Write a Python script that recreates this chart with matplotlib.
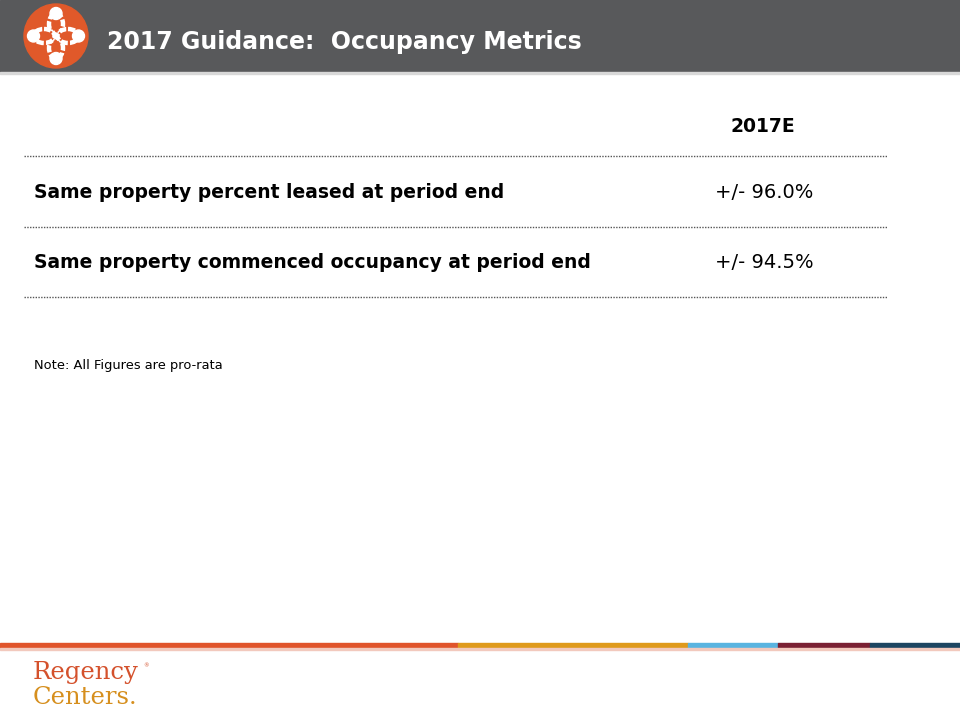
import matplotlib.pyplot as plt
from matplotlib.patches import Rectangle, Circle, Ellipse

title = "2017 Guidance:  Occupancy Metrics"
column = "2017E"
row_labels = ["Same property percent leased at period end",
              "Same property commenced occupancy at period end"]
row_values = ["+/- 96.0%", "+/- 94.5%"]
note = "Note: All Figures are pro-rata"
stripe_colors = ["#e0542b", "#df9a1c", "#5ab4e0", "#7a2033", "#1c4561"]
stripe_edges = [0, 458, 688, 778, 870, 960]

plt.rcParams['font.family'] = ['DejaVu Sans']

fig = plt.figure(figsize=(9.6, 7.2), dpi=100)
ax = fig.add_axes([0, 0, 1, 1])
ax.set_xlim(0, 960)
ax.set_ylim(720, 0)
ax.axis('off')

# header bar
ax.add_patch(Rectangle((0, 0), 960, 72, color='#58595b', zorder=1))
ax.add_patch(Rectangle((0, 72), 960, 2, color='#d8d8d8', zorder=1))
cx, cy = 56, 36
orange = '#e0592a'
ax.add_patch(Circle((cx, cy), 32, color=orange, zorder=2))
# logo: four looped petals (white outline) with a dot at each tip
for dx, dy in [(0, -1), (0, 1), (-1, 0), (1, 0)]:
    vert = dx == 0
    ax.add_patch(Ellipse((cx + dx * 12, cy + dy * 12), 14 if vert else 21,
                         21 if vert else 14, facecolor=orange, edgecolor='white',
                         lw=3.2, ls=(0, (1.6, 0.5)), zorder=3))
    ax.add_patch(Circle((cx + dx * 22.5, cy + dy * 22.5), 6, color='white', zorder=5))
ax.text(107, 42, title, color='white', fontsize=17, fontweight='bold',
        va='center', ha='left', zorder=6)

# table
ax.text(763, 126, column, fontsize=13.5, fontweight='bold', ha='center', va='center')
for y in [156, 227, 297]:
    ax.plot([24, 887], [y, y], color='#555555', lw=1, ls=(0, (1, 1)))
for i, (lab, val) in enumerate(zip(row_labels, row_values)):
    y = 192 + i * 70
    ax.text(34, y, lab, fontsize=13.5, fontweight='bold', ha='left', va='center')
    ax.text(764, y, val, fontsize=14, ha='center', va='center')

ax.text(34, 365, note, fontsize=9.4, ha='left', va='center')

# footer stripe
for c, x0, x1 in zip(stripe_colors, stripe_edges[:-1], stripe_edges[1:]):
    ax.add_patch(Rectangle((x0, 643), x1 - x0, 5, color=c))
ax.add_patch(Rectangle((0, 648), 960, 1.5, color='#f2c9bd'))
ax.text(33, 679, "Regency", color='#d4512c', fontsize=17.5, family='DejaVu Serif',
        ha='left', va='baseline')
ax.text(143, 666, "\u00ae", color='#d4512c', fontsize=4, ha='left', va='center')
ax.text(33, 704, "Centers.", color='#d68f1e', fontsize=17.5, family='DejaVu Serif',
        ha='left', va='baseline')

fig.savefig('out.png', dpi=100)
